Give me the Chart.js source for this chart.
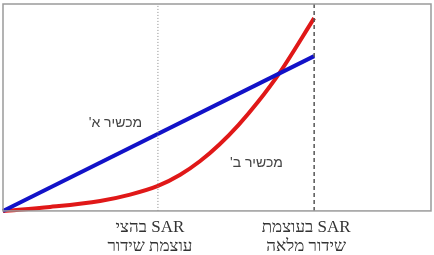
<!DOCTYPE html>
<html>
<head>
<meta charset="utf-8">
<script src="https://cdn.jsdelivr.net/npm/chart.js@4/dist/chart.umd.min.js"></script>
<style>
  html, body { margin: 0; padding: 0; background: #fff; }
  #wrap { width: 434px; height: 255px; }
  canvas { direction: rtl; }
</style>
</head>
<body>
<div id="wrap"><canvas id="chart" dir="rtl"></canvas></div>
<script>
// power level (x) and SAR (y), both 0..100
const deviceAX = [0, 72.7];
const deviceAY = [0, 74.8];
const deviceBX = [0, 11, 22.7, 29.7, 36.2, 41.4, 46, 50.5, 55, 59.5, 64.7, 72.7];
const deviceBY = [0, 1.9, 4.8, 7.9, 12.1, 17.5, 24, 32, 41.5, 52.5, 67, 93.2];

// half power / full power markers
const markerX = [36.2, 72.7];
const markerLabels = [
  ['SAR בהצי', 'עוצמת שידור'],
  ['SAR בעוצמת', 'שידור מלאה']
];
const seriesNames = ["מכשיר א'", "מכשיר ב'"];

const toPoints = (xs, ys) => xs.map((x, i) => ({ x: x, y: ys[i] }));

// frame around the plot + series names
const framePlugin = {
  id: 'frame',
  afterDraw(chart) {
    const { ctx, chartArea: a, scales } = chart;
    ctx.save();
    ctx.strokeStyle = '#9a9a9a';
    ctx.lineWidth = 1.5;
    ctx.strokeRect(a.left, a.top, a.right - a.left, a.bottom - a.top);

    ctx.fillStyle = '#444';
    ctx.font = '14px "Liberation Sans", Arial, sans-serif';
    ctx.textAlign = 'right';
    ctx.textBaseline = 'middle';
    ctx.fillText(seriesNames[0], scales.x.getPixelForValue(32.5), scales.y.getPixelForValue(42.2));
    ctx.fillText(seriesNames[1], scales.x.getPixelForValue(65.4), scales.y.getPixelForValue(23.3));
    ctx.restore();
  }
};

new Chart(document.getElementById('chart'), {
  type: 'line',
  data: {
    datasets: [
      {
        data: toPoints([markerX[0], markerX[0]], [0, 100]),
        borderColor: '#8a8a8a',
        borderWidth: 1,
        borderDash: [1, 2],
        pointRadius: 0
      },
      {
        data: toPoints([markerX[1], markerX[1]], [0, 100]),
        borderColor: '#555',
        borderWidth: 1.5,
        borderDash: [4, 3],
        pointRadius: 0
      },
      {
        data: toPoints(deviceAX, deviceAY),
        borderColor: '#1212c8',
        borderWidth: 4,
        pointRadius: 0,
        clip: false
      },
      {
        data: toPoints(deviceBX, deviceBY),
        borderColor: '#e01818',
        borderWidth: 4,
        pointRadius: 0,
        cubicInterpolationMode: 'monotone',
        clip: false
      }
    ]
  },
  options: {
    responsive: true,
    maintainAspectRatio: false,
    animation: false,
    layout: { padding: { left: 3, right: 3, top: 4, bottom: -8 } },
    plugins: {
      legend: { display: false },
      tooltip: { enabled: false }
    },
    scales: {
      x: {
        type: 'linear',
        min: 0,
        max: 100,
        grid: { display: false, drawTicks: false, tickLength: 0 },
        border: { display: false },
        afterBuildTicks(axis) {
          axis.ticks = markerX.map(v => ({ value: v }));
        },
        ticks: {
          autoSkip: false,
          maxRotation: 0,
          padding: 7,
          labelOffset: -8,
          color: '#333',
          font: { family: '"Liberation Serif", "Times New Roman", serif', size: 17, lineHeight: 1.12 },
          callback: (value, index) => markerLabels[index]
        }
      },
      y: {
        display: false,
        min: 0,
        max: 100
      }
    }
  },
  plugins: [framePlugin]
});
</script>
</body>
</html>
